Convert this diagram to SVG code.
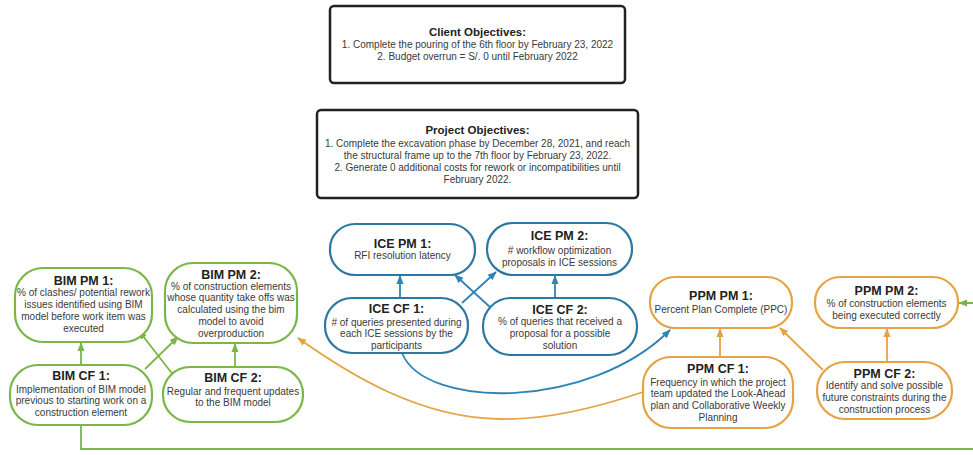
<svg xmlns="http://www.w3.org/2000/svg" width="973" height="455" viewBox="0 0 973 455">
<style>
text{font-family:"Liberation Sans",Arial,sans-serif;fill:#3a3a3a;text-anchor:middle}
.t{font-weight:bold;font-size:12.5px;fill:#222}
.b{font-size:10px}
.tt{font-weight:bold;font-size:11.5px;fill:#222}
.obj{fill:#fff;stroke:#222;stroke-width:2.5}
.g{fill:#fff;stroke:#7ab648;stroke-width:2.2}
.u{fill:#fff;stroke:#2d77a3;stroke-width:2.2}
.o{fill:#fff;stroke:#e6a345;stroke-width:2.2}
.cg{fill:none;stroke:#7ab648;stroke-width:1.8;marker-end:url(#ag)}
.cu{fill:none;stroke:#2d84b5;stroke-width:1.8;marker-end:url(#au)}
.co{fill:none;stroke:#e6a345;stroke-width:1.8;marker-end:url(#ao)}
</style>
<defs>
<marker id="ag" viewBox="0 0 10 10" refX="9" refY="5" markerWidth="9" markerHeight="9" markerUnits="userSpaceOnUse" orient="auto"><path d="M0,1 L10,5 L0,9 z" fill="#7ab648"/></marker>
<marker id="au" viewBox="0 0 10 10" refX="9" refY="5" markerWidth="9" markerHeight="9" markerUnits="userSpaceOnUse" orient="auto"><path d="M0,1 L10,5 L0,9 z" fill="#2d84b5"/></marker>
<marker id="ao" viewBox="0 0 10 10" refX="9" refY="5" markerWidth="9" markerHeight="9" markerUnits="userSpaceOnUse" orient="auto"><path d="M0,1 L10,5 L0,9 z" fill="#e6a345"/></marker>
</defs>
<rect width="973" height="455" fill="#fff"/>

<g id="connectors">
<path class="cg" d="M81,365 L81,343"/>
<path class="cg" d="M235,367 L235,344"/>
<path class="cg" d="M145,369 L178,337"/>
<path class="cg" d="M174,376 L139,331"/>
<path class="cg" d="M81,425 V449 H990 V303 H959"/>
<path class="cu" d="M400,298 V276"/>
<path class="cu" d="M555,298 V276"/>
<path class="cu" d="M462,303 L496,272"/>
<path class="cu" d="M491,308 L455,275"/>
<path class="cu" d="M402,353 C425,410 590,410 670,330"/>
<path class="co" d="M643,392 C590,410 540,420 500,419 C420,418 350,375 298,338"/>
<path class="co" d="M720,357 V329"/>
<path class="co" d="M887,362 V329"/>
<path class="co" d="M823,370 L780,328"/>
</g>

<g id="client-objectives">
<rect class="obj" x="330" y="6" width="295" height="77" rx="4"/>
<text class="tt" x="477.5" y="36">Client Objectives:</text>
<text class="b" x="477.5" y="48">1. Complete the pouring of the 6th floor by February 23, 2022</text>
<text class="b" x="477.5" y="60">2. Budget overrun = S/. 0 until February 2022</text>
</g>

<g id="project-objectives">
<rect class="obj" x="317" y="110" width="321" height="88" rx="4"/>
<text class="tt" x="477.5" y="134">Project Objectives:</text>
<text class="b" x="477.5" y="147">1. Complete the excavation phase by December 28, 2021, and reach</text>
<text class="b" x="477.5" y="159">the structural frame up to the 7th floor by February 23, 2022.</text>
<text class="b" x="477.5" y="171">2. Generate 0 additional costs for rework or incompatibilities until</text>
<text class="b" x="477.5" y="183">February 2022.</text>
</g>

<g id="bim-pm-1">
<rect class="g" x="15" y="268" width="137" height="74" rx="28"/>
<text class="t" x="83.5" y="284.5">BIM PM 1:</text>
<text class="b" x="83.5" y="296">% of clashes/ potential rework</text>
<text class="b" x="83.5" y="308">issues identified using BIM</text>
<text class="b" x="83.5" y="319.5">model before work item was</text>
<text class="b" x="83.5" y="331.5">executed</text>
</g>

<g id="bim-pm-2">
<rect class="g" x="165" y="263" width="132" height="80" rx="28"/>
<text class="t" x="231" y="278.5">BIM PM 2:</text>
<text class="b" x="231" y="289.5">% of construction elements</text>
<text class="b" x="231" y="301">whose quantity take offs was</text>
<text class="b" x="231" y="312.5">calculated using the bim</text>
<text class="b" x="231" y="324.5">model to avoid</text>
<text class="b" x="231" y="336.5">overproduction</text>
</g>

<g id="bim-cf-1">
<rect class="g" x="10" y="365" width="142" height="60" rx="28"/>
<text class="t" x="81" y="379.5">BIM CF 1:</text>
<text class="b" x="81" y="392.5">Implementation of BIM model</text>
<text class="b" x="81" y="404">previous to starting work on a</text>
<text class="b" x="81" y="415.5">construction element</text>
</g>

<g id="bim-cf-2">
<rect class="g" x="163" y="367" width="140" height="55" rx="27"/>
<text class="t" x="233" y="381.5">BIM CF 2:</text>
<text class="b" x="233" y="394.5">Regular and frequent updates</text>
<text class="b" x="233" y="406">to the BIM model</text>
</g>

<g id="ice-pm-1">
<rect class="u" x="330" y="224" width="145" height="51" rx="25"/>
<text class="t" x="402.5" y="247.5">ICE PM 1:</text>
<text class="b" x="402.5" y="259">RFI resolution latency</text>
</g>

<g id="ice-pm-2">
<rect class="u" x="487" y="223" width="145" height="52" rx="26"/>
<text class="t" x="559.5" y="239.5">ICE PM 2:</text>
<text class="b" x="559.5" y="253.5"># workflow optimization</text>
<text class="b" x="559.5" y="265.5">proposals in ICE sessions</text>
</g>

<g id="ice-cf-1">
<rect class="u" x="325" y="298" width="143" height="55" rx="27"/>
<text class="t" x="396.5" y="312.5">ICE CF 1:</text>
<text class="b" x="396.5" y="325.5"># of queries presented during</text>
<text class="b" x="396.5" y="337">each ICE sessions by the</text>
<text class="b" x="396.5" y="348.5">participants</text>
</g>

<g id="ice-cf-2">
<rect class="u" x="483" y="298" width="154" height="57" rx="28"/>
<text class="t" x="560" y="313.5">ICE CF 2:</text>
<text class="b" x="560" y="325">% of queries that received a</text>
<text class="b" x="560" y="337">proposal for a possible</text>
<text class="b" x="560" y="348.5">solution</text>
</g>

<g id="ppm-pm-1">
<rect class="o" x="650" y="277" width="142" height="51" rx="25"/>
<text class="t" x="721" y="299.5">PPM PM 1:</text>
<text class="b" x="721" y="312.5">Percent Plan Complete (PPC)</text>
</g>

<g id="ppm-pm-2">
<rect class="o" x="815" y="277" width="143" height="51" rx="25"/>
<text class="t" x="886.5" y="294.5">PPM PM 2:</text>
<text class="b" x="886.5" y="306.5">% of construction elements</text>
<text class="b" x="886.5" y="318.5">being executed correctly</text>
</g>

<g id="ppm-cf-1">
<rect class="o" x="643" y="357" width="150" height="71" rx="28"/>
<text class="t" x="718" y="372.5">PPM CF 1:</text>
<text class="b" x="718" y="385.5">Frequency in which the project</text>
<text class="b" x="718" y="397">team updated the Look-Ahead</text>
<text class="b" x="718" y="408.5">plan and Collaborative Weekly</text>
<text class="b" x="718" y="420.5">Planning</text>
</g>

<g id="ppm-cf-2">
<rect class="o" x="817" y="362" width="135" height="57" rx="28"/>
<text class="t" x="884.5" y="377.5">PPM CF 2:</text>
<text class="b" x="884.5" y="388.5">Identify and solve possible</text>
<text class="b" x="884.5" y="400.5">future constraints during the</text>
<text class="b" x="884.5" y="412.5">construction process</text>
</g>
</svg>
